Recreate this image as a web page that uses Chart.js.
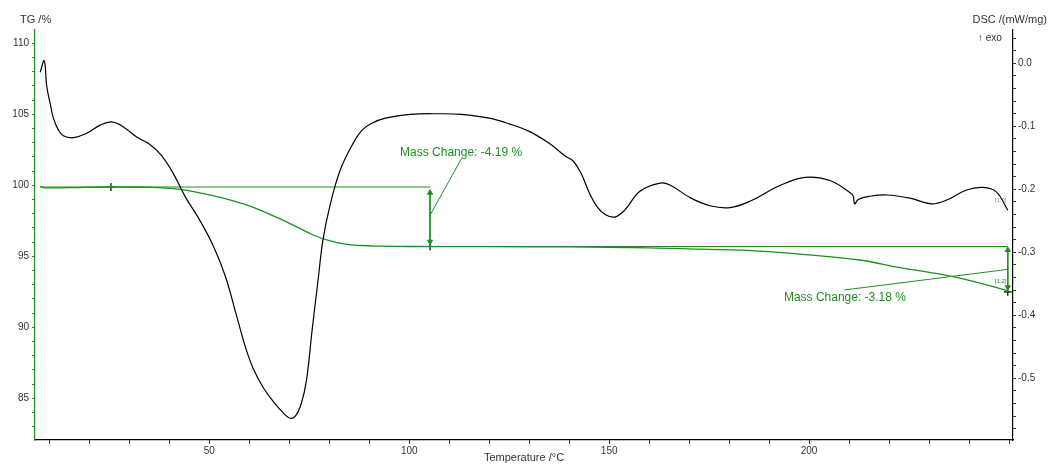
<!DOCTYPE html>
<html>
<head>
<meta charset="utf-8">
<script src="https://cdn.jsdelivr.net/npm/chart.js@4/dist/chart.umd.min.js"></script>
<style>
  body { margin: 0; background: #fff; }
  #wrap { width: 1049px; height: 464px; }
</style>
</head>
<body>
<div id="wrap"><canvas id="tgChart" width="1049" height="464"></canvas></div>
<script>
// DSC curve (mW/mg) vs temperature (°C)
const dscTemp = [7.7, 8.7, 9.35, 10.2, 11, 12.25, 13.5, 16, 19.35, 22.7, 25.6, 28.5, 31.85, 35, 38, 41, 44, 47.7, 51, 54, 57, 59, 61, 63.5, 66, 68.5, 70, 71.4, 73, 74.3, 75.7, 77.2, 78.4, 80.2, 82.7, 85.7, 88.2, 90.7, 94, 100.2, 107.7, 113, 120, 125, 130, 135, 139, 141, 143, 145, 147, 149, 151.4, 153.9, 157.7, 162.7, 165.2, 170.2, 175.2, 180.2, 185.2, 192.7, 199, 205.2, 210.2, 211, 211.4, 212.3, 215.2, 219.4, 225.2, 230.6, 234.4, 239.4, 243.5, 246.8, 249.7];
const dscValue = [-0.014, 0.004, -0.037, -0.064, -0.087, -0.106, -0.115, -0.118, -0.111, -0.098, -0.093, -0.101, -0.117, -0.128, -0.146, -0.175, -0.212, -0.250, -0.290, -0.338, -0.405, -0.450, -0.485, -0.515, -0.537, -0.555, -0.563, -0.561, -0.540, -0.503, -0.424, -0.344, -0.281, -0.225, -0.170, -0.130, -0.106, -0.095, -0.087, -0.081, -0.080, -0.081, -0.087, -0.096, -0.108, -0.127, -0.147, -0.155, -0.175, -0.205, -0.228, -0.240, -0.244, -0.233, -0.203, -0.190, -0.193, -0.213, -0.226, -0.229, -0.219, -0.194, -0.181, -0.186, -0.205, -0.210, -0.223, -0.216, -0.211, -0.209, -0.214, -0.223, -0.217, -0.201, -0.197, -0.204, -0.233];

// TG curve (%) vs temperature (°C)
const tgTemp = [7.7, 9, 15, 25, 35, 42.7, 47, 51.9, 56, 60.2, 64, 68, 72, 76, 80, 84, 88, 92, 100, 120, 140, 160, 172.7, 187.7, 200, 212.7, 222.7, 236, 249.3, 249.7];
const tgValue = [99.9, 99.82, 99.84, 99.88, 99.85, 99.72, 99.5, 99.2, 98.9, 98.54, 98.1, 97.6, 97.05, 96.5, 96.1, 95.86, 95.76, 95.72, 95.69, 95.68, 95.66, 95.6, 95.5, 95.37, 95.1, 94.74, 94.2, 93.56, 92.6, 92.5];

// mass change evaluation
const stepTemps = [105.2, 249.7];
const stepTop = [99.88, 95.69];
const stepBottom = [95.69, 92.5];
const stepArrowTop = [99.48, 95.44];
const stepArrowBottom = [96.03, 92.82];
const startTemp = 7.7;
const markerTemps = [25.4, 105.2, 249.7];
const markerValues = [99.88, 95.69, 92.5];
const leaderTemps = [[105.0, 113.1], [249.75, 208.9]];
const leaderValues = [[97.79, 101.9], [94.08, 92.63]];
const massLabels = ['Mass Change: -4.19 %', 'Mass Change: -3.18 %'];
const massLabelTemps = [97.7, 193.7];
const massLabelValues = [102.32, 92.11];

const GREEN = '#1f8f1f';
const FONT = '"Liberation Sans", Arial, sans-serif';

const xy = (xs, ys) => xs.map((x, i) => ({ x: x, y: ys[i] }));

const datasets = [
  {
    data: xy(dscTemp, dscValue), yAxisID: 'y2',
    borderColor: '#000', borderWidth: 1.2, tension: 0.4
  },
  {
    data: xy(tgTemp, tgValue), yAxisID: 'y',
    borderColor: GREEN, borderWidth: 1.3, tension: 0.4
  },
  // baseline before the first step
  {
    data: xy([startTemp, stepTemps[0]], [stepTop[0], stepTop[0]]), yAxisID: 'y',
    borderColor: GREEN, borderWidth: 1
  },
  // baseline before the second step
  {
    data: xy([stepTemps[0], stepTemps[1]], [stepTop[1], stepTop[1]]), yAxisID: 'y',
    borderColor: GREEN, borderWidth: 1.2
  }
];

// double arrows and leader lines
stepTemps.forEach((t, i) => {
  datasets.push({
    data: xy([t, t], [stepArrowTop[i], stepArrowBottom[i]]), yAxisID: 'y',
    borderColor: GREEN, backgroundColor: GREEN, borderWidth: 1,
    pointStyle: 'triangle', pointRadius: 3, rotation: [0, 180]
  });
  datasets.push({
    data: xy(leaderTemps[i], leaderValues[i]), yAxisID: 'y',
    borderColor: GREEN, borderWidth: 1
  });
});

datasets.push({
  data: xy(markerTemps, markerValues), yAxisID: 'y', showLine: false,
  pointStyle: 'cross', pointRadius: 4, borderColor: '#000', borderWidth: 1.2
});

const textPlugin = {
  id: 'texts',
  afterDraw(chart) {
    const ctx = chart.ctx;
    const x = chart.scales.x, y = chart.scales.y, y2 = chart.scales.y2;
    ctx.save();
    ctx.textBaseline = 'middle';
    ctx.fillStyle = '#333';
    ctx.font = '11px ' + FONT;
    ctx.textAlign = 'left';
    ctx.fillText('TG /%', 20, 20);
    ctx.textAlign = 'right';
    ctx.fillText('DSC /(mW/mg)', 1047, 20);
    ctx.textAlign = 'left';
    ctx.font = '10px ' + FONT;
    ctx.fillText('\u2191 exo', 978, 38);

    ctx.fillStyle = GREEN;
    ctx.font = '12px ' + FONT;
    massLabels.forEach((s, i) => {
      ctx.fillText(s, x.getPixelForValue(massLabelTemps[i]), y.getPixelForValue(massLabelValues[i]));
    });

    ctx.font = '6px ' + FONT;
    ctx.textAlign = 'center';
    ctx.fillStyle = '#888';
    ctx.fillText('[1.3]', x.getPixelForValue(247.9), y2.getPixelForValue(-0.217));
    ctx.fillStyle = GREEN;
    ctx.fillText('[1.2]', x.getPixelForValue(247.9), y.getPixelForValue(93.21));
    ctx.restore();
  }
};

new Chart(document.getElementById('tgChart'), {
  type: 'scatter',
  data: { datasets: datasets.map(d => Object.assign({ showLine: true, pointRadius: 0, fill: false }, d)) },
  options: {
    responsive: false,
    animation: false,
    devicePixelRatio: 1,
    layout: { padding: { top: 30, left: 0, right: 0, bottom: 0 } },
    plugins: { legend: { display: false }, tooltip: { enabled: false } },
    scales: {
      x: {
        type: 'linear', min: 6.4, max: 251,
        border: { color: '#000', width: 1.2 },
        grid: { drawOnChartArea: false, tickLength: 4, color: '#333' },
        ticks: {
          stepSize: 10, includeBounds: false, autoSkip: false, maxRotation: 0, padding: 1,
          color: '#333', font: { size: 10, family: FONT },
          callback: v => (v % 50 === 0 && v < 250) ? String(v) : ''
        },
        title: {
          display: true, text: 'Temperature /\u00b0C', color: '#333',
          font: { size: 11, family: FONT }, padding: { top: 0, bottom: -1 }
        },
        afterFit: s => { s.height = 24; }
      },
      y: {
        position: 'left', min: 82.06, max: 110.94,
        border: { color: GREEN, width: 1.2 },
        grid: { drawOnChartArea: false, tickLength: 3, color: GREEN },
        ticks: {
          stepSize: 1, includeBounds: false, autoSkip: false, padding: 3,
          color: '#333', font: { size: 10, family: FONT },
          callback: v => Math.abs(v % 5) < 1e-6 ? String(v) : ''
        },
        afterFit: s => { s.width = 35; }
      },
      y2: {
        position: 'right', min: -0.598, max: 0.053,
        border: { color: '#000', width: 1.2 },
        grid: { drawOnChartArea: false, tickLength: 3, color: '#333' },
        ticks: {
          stepSize: 0.02, includeBounds: false, autoSkip: false, padding: 2,
          color: '#333', font: { size: 10, family: FONT },
          callback: v => {
            const r = Math.round(v * 100);
            return r % 10 === 0 ? (r / 100).toFixed(1) : '';
          }
        },
        afterFit: s => { s.width = 36; }
      }
    }
  },
  plugins: [textPlugin]
});
</script>
</body>
</html>
